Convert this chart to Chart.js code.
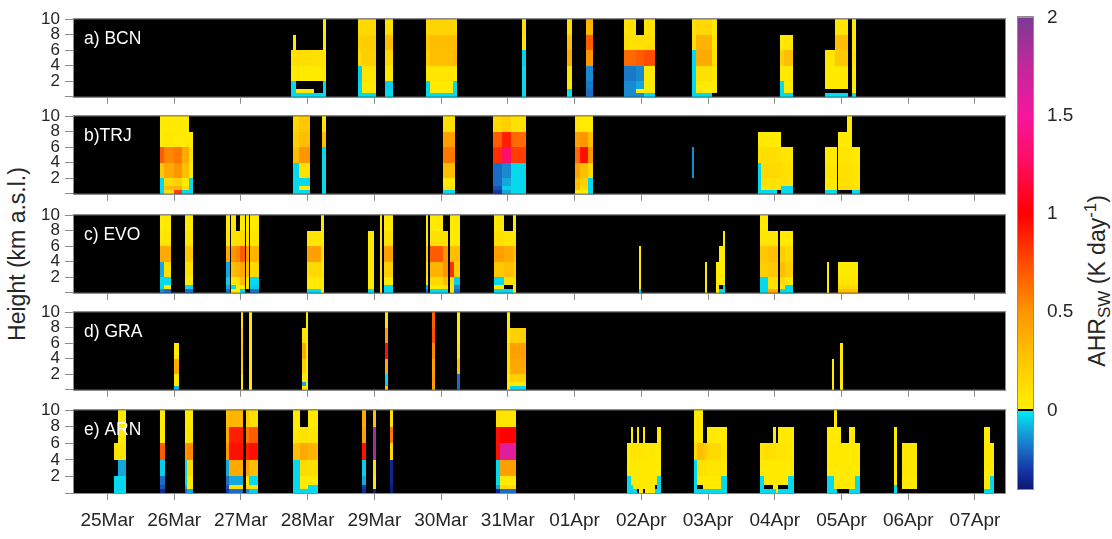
<!DOCTYPE html>
<html>
<head>
<meta charset="utf-8">
<script src="https://cdn.jsdelivr.net/npm/chart.js@4.4.1/dist/chart.umd.min.js"></script>
<style>
  html, body { margin: 0; padding: 0; background: #fff; }
  #wrap { position: relative; width: 1112px; height: 539px; overflow: hidden;
          font-family: 'Liberation Sans', Arial, sans-serif; color: #262626; }
  #wrap canvas { position: absolute; }
  .vlabel { position: absolute; width: 320px; height: 28px; line-height: 28px; font-size: 23px;
            white-space: nowrap; transform: rotate(-90deg); transform-origin: 0 0; }
  .vlabel sub, .vlabel sup { font-size: 17px; }
</style>
</head>
<body>
<div id="wrap">
  <div class="vlabel" style="left:3px; top:414px; text-align:center;">Height (km a.s.l.)</div>
  <div class="vlabel" style="left:1077px; top:515px; text-align:right;">AHR<sub>SW</sub> (K day<sup>-1</sup>)</div>
</div>
<script>
// time axis: days since 25 Mar 00:00
const dayLabels = ['25Mar', '26Mar', '27Mar', '28Mar', '29Mar', '30Mar', '31Mar',
                   '01Apr', '02Apr', '03Apr', '04Apr', '05Apr', '06Apr', '07Apr'];
const heightEdges = [0, 0.5, 1, 2, 4, 6, 8, 10];
const heightTicks = [0, 2, 4, 6, 8, 10];
const colorbarTicks = [0, 0.5, 1, 1.5, 2];
const stationNames = ['a) BCN', 'b)TRJ', 'c) EVO', 'd) GRA', 'e) ARN'];

// each row: [start, end, AHR in layers 0-0.5, 0.5-1, 1-2, 2-4, 4-6, 6-8, 8-10 km]; null = no data
const bcnProfiles = [
  [2.75, 2.78, -0.03, -0.03, -0.03, 0.05, 0.1, null, null],
  [2.78, 2.82, -0.03, -0.03, -0.03, 0.05, 0.1, 0.05, null],
  [2.82, 3.10, -0.03, 0.05, null, 0.05, 0.12, null, null],
  [3.10, 3.23, -0.03, null, null, 0.05, 0.1, null, null],
  [3.23, 3.28, -0.03, -0.03, -0.03, 0.05, 0.08, 0.05, 0.05],
  [3.75, 3.82, -0.03, -0.03, -0.03, -0.05, 0.15, 0.2, 0.15],
  [3.82, 4.03, -0.03, 0.05, 0.05, 0.08, 0.2, 0.22, 0.15],
  [4.16, 4.28, -0.03, -0.03, -0.05, 0.05, 0.15, 0.3, 0.1],
  [4.78, 4.83, -0.03, -0.03, -0.03, 0.05, 0.2, 0.25, 0.15],
  [4.83, 5.18, -0.03, 0.05, 0.05, 0.08, 0.3, 0.3, 0.18],
  [5.18, 5.24, -0.03, -0.03, -0.03, 0.05, 0.35, 0.3, 0.15],
  [6.21, 6.28, -0.03, -0.03, -0.03, -0.03, -0.04, 0.08, 0.1],
  [6.88, 6.96, -0.01, -0.03, 0.05, 0.08, 0.4, 0.3, 0.1],
  [7.17, 7.28, -0.2, -0.2, -0.18, -0.15, 0.5, 0.7, 0.35],
  [7.74, 7.92, -0.15, -0.15, -0.15, -0.18, 0.65, 0.1, 0.08],
  [7.92, 8.04, -0.15, 0.05, -0.1, -0.15, 0.7, 0.1, null],
  [8.04, 8.21, -0.03, 0.05, 0.05, 0.05, 0.75, 0.12, 0.08],
  [8.76, 8.82, -0.03, -0.03, -0.03, -0.03, -0.03, 0.1, 0.1],
  [8.82, 9.06, -0.03, 0.05, 0.05, 0.1, 0.4, 0.35, 0.15],
  [9.06, 9.13, null, 0.05, 0.05, 0.05, 0.1, 0.08, 0.05],
  [10.08, 10.14, -0.03, -0.03, -0.03, 0.05, 0.2, 0.05, null],
  [10.14, 10.28, -0.03, 0.05, 0.05, 0.05, 0.3, 0.08, null],
  [10.76, 10.91, -0.03, null, 0.05, 0.05, 0.08, null, null],
  [10.91, 11.10, -0.03, null, 0.05, 0.05, 0.25, 0.3, 0.08],
  [11.15, 11.21, -0.03, 0.05, 0.05, 0.05, 0.08, 0.05, 0.05]
];

const trjProfiles = [
  [0.79, 0.85, -0.03, -0.03, -0.03, 0.25, 0.7, 0.05, 0.05],
  [0.85, 1.00, 0.1, 0.3, 0.15, 0.4, 0.55, 0.06, 0.05],
  [1.00, 1.12, 0.8, 0.35, 0.2, 0.5, 0.6, 0.05, 0.05],
  [1.12, 1.23, -0.03, 0.1, 0.05, 0.3, 0.4, 0.05, 0.05],
  [1.23, 1.28, -0.03, -0.03, -0.03, 0.05, 0.08, 0.05, null],
  [2.78, 2.87, -0.03, -0.03, -0.03, -0.03, 0.3, 0.2, 0.15],
  [2.87, 3.03, -0.03, 0.05, -0.03, 0.1, 0.5, 0.3, 0.25],
  [3.21, 3.28, -0.03, -0.03, -0.03, -0.03, -0.03, 0.3, 0.08],
  [5.03, 5.21, -0.03, 0.1, 0.05, 0.3, 0.6, 0.45, 0.1],
  [5.78, 5.92, -0.3, -0.25, -0.2, -0.2, 0.85, 0.7, 0.15],
  [5.92, 6.05, -0.1, -0.05, -0.1, -0.15, 1.3, 0.9, 0.2],
  [6.05, 6.28, -0.03, -0.03, -0.03, -0.03, 0.8, 0.65, 0.1],
  [7.00, 7.08, 0.05, 0.3, 0.3, 0.45, 0.65, 0.45, 0.08],
  [7.08, 7.20, 0.05, 0.15, 0.2, 0.3, 0.95, 0.5, 0.05],
  [7.20, 7.28, -0.03, -0.03, -0.03, 0.15, 0.5, 0.3, 0.05],
  [8.76, 8.79, null, null, null, -0.15, -0.15, null, null],
  [9.75, 9.80, -0.03, -0.03, -0.03, -0.03, 0.1, 0.05, null],
  [9.80, 10.04, -0.03, 0.08, 0.1, 0.15, 0.12, 0.05, null],
  [10.04, 10.10, null, 0.1, 0.1, 0.15, 0.1, 0.05, null],
  [10.10, 10.28, -0.03, -0.03, 0.1, 0.1, 0.08, null, null],
  [10.76, 10.93, -0.03, 0.05, 0.05, 0.08, 0.05, null, null],
  [10.95, 11.08, null, 0.15, 0.1, 0.1, 0.08, 0.05, null],
  [11.08, 11.15, null, 0.15, 0.1, 0.1, 0.08, 0.05, 0.05],
  [11.15, 11.28, -0.03, 0.1, 0.08, 0.08, 0.05, null, null]
];

const evoProfiles = [
  [0.79, 0.85, -0.15, -0.03, -0.03, -0.1, 0.4, 0.08, 0.05],
  [0.85, 0.95, -0.2, 0.05, -0.03, 0.1, 0.4, 0.08, 0.05],
  [1.16, 1.28, -0.2, -0.03, 0.05, 0.1, 0.25, 0.08, 0.05],
  [1.78, 1.83, -0.2, -0.1, -0.05, -0.1, 0.4, 0.08, 0.05],
  [1.85, 1.93, 0.05, -0.03, 0.05, 0.3, 0.5, 0.1, 0.08],
  [1.93, 1.98, 0.05, 0.05, 0.1, 0.35, 0.55, 0.1, null],
  [1.98, 2.06, -0.03, 0.05, 0.3, 0.4, 0.7, 0.15, 0.05],
  [2.08, 2.12, null, 0.05, 0.1, 0.3, 0.45, 0.1, 0.05],
  [2.14, 2.27, -0.2, -0.05, -0.03, 0.15, 0.35, 0.08, 0.05],
  [2.99, 3.20, -0.03, 0.05, 0.05, 0.15, 0.45, 0.08, null],
  [3.20, 3.24, 0.05, 0.05, 0.05, 0.08, 0.1, 0.05, 0.05],
  [3.91, 3.99, -0.03, 0.05, 0.05, 0.05, 0.05, 0.05, null],
  [4.08, 4.12, 0.05, 0.05, 0.05, 0.05, 0.08, 0.05, 0.05],
  [4.14, 4.28, -0.03, -0.03, 0.05, 0.2, 0.45, 0.1, 0.05],
  [4.78, 4.81, -0.2, -0.1, 0.05, 0.1, 0.2, 0.05, 0.05],
  [4.84, 5.03, -0.03, 0.05, 0.15, 0.35, 0.7, 0.1, 0.05],
  [5.03, 5.11, -0.03, 0.1, 0.3, 0.5, 0.5, 0.1, null],
  [5.14, 5.19, 0.05, 0.05, 0.1, 0.85, 0.3, 0.05, 0.05],
  [5.20, 5.28, -0.2, -0.15, -0.05, 0.2, 0.3, 0.05, 0.05],
  [5.79, 5.95, -0.03, 0.05, -0.03, 0.25, 0.45, 0.1, 0.05],
  [5.95, 6.08, -0.03, null, 0.1, 0.3, 0.4, 0.08, null],
  [6.08, 6.12, 0.05, 0.05, 0.1, 0.2, 0.3, 0.05, 0.05],
  [7.96, 7.99, -0.03, 0.05, 0.05, 0.05, 0.05, null, null],
  [8.95, 8.99, 0.05, 0.05, 0.05, 0.05, null, null, null],
  [9.12, 9.16, 0.05, 0.05, 0.05, 0.05, null, null, null],
  [9.16, 9.22, -0.03, null, 0.05, 0.05, 0.05, null, null],
  [9.22, 9.26, -0.03, -0.03, 0.05, 0.05, 0.05, 0.05, null],
  [9.78, 9.90, -0.03, -0.03, -0.03, 0.2, 0.25, 0.08, 0.05],
  [9.90, 10.05, 0.4, 0.1, 0.1, 0.25, 0.3, 0.08, null],
  [10.08, 10.15, -0.03, 0.05, 0.15, 0.3, 0.2, 0.05, null],
  [10.15, 10.28, -0.03, -0.03, 0.05, 0.2, 0.15, 0.05, null],
  [10.78, 10.82, 0.05, 0.05, 0.05, 0.05, null, null, null],
  [10.95, 11.25, 0.3, 0.15, 0.08, 0.05, null, null, null]
];

const graProfiles = [
  [1.00, 1.07, -0.08, 0.05, 0.05, 0.4, 0.05, null, null],
  [2.00, 2.03, 0.05, 0.05, 0.05, 0.2, 0.3, 0.25, 0.1],
  [2.12, 2.16, 0.05, 0.05, 0.05, 0.05, 0.05, 0.05, 0.05],
  [2.91, 2.98, 0.05, -0.1, 0.05, 0.2, 0.4, 0.08, null],
  [2.98, 3.00, 0.05, 0.05, 0.05, 0.05, 0.05, 0.05, 0.05],
  [4.16, 4.21, 0.3, -0.05, -0.03, 0.4, 0.95, 0.45, 0.1],
  [4.87, 4.91, 0.45, 0.45, 0.5, 0.45, 0.55, 0.75, 0.7],
  [5.24, 5.28, -0.2, -0.2, -0.2, 0.3, 0.1, 0.05, 0.05],
  [5.99, 6.04, 0.05, 0.05, 0.05, 0.1, 0.1, 0.05, 0.05],
  [6.04, 6.27, -0.03, 0.05, 0.2, 0.4, 0.45, 0.2, null],
  [10.86, 10.89, 0.05, 0.05, 0.05, 0.05, null, null, null],
  [10.98, 11.02, 0.05, 0.05, 0.05, 0.05, 0.05, null, null]
];

const arnProfiles = [
  [0.10, 0.16, -0.03, -0.03, -0.03, null, 0.1, null, null],
  [0.16, 0.28, -0.03, -0.03, -0.03, -0.1, 0.08, 0.05, 0.05],
  [0.79, 0.87, -0.35, -0.25, -0.2, -0.05, 0.7, 0.05, 0.05],
  [1.16, 1.20, -0.2, -0.1, -0.03, -0.03, 0.5, 0.05, 0.05],
  [1.20, 1.28, -0.1, 0.05, 0.05, 0.15, 0.55, 0.08, 0.05],
  [1.78, 1.82, -0.3, -0.25, -0.2, -0.1, 0.5, 0.4, 0.3],
  [1.82, 2.03, -0.2, 0.1, -0.1, 0.4, 0.95, 0.9, 0.35],
  [2.07, 2.12, -0.15, 0.15, 0.05, 0.45, 0.9, 0.6, 0.2],
  [2.12, 2.25, -0.05, 0.1, -0.03, 0.3, 0.95, 0.7, 0.1],
  [2.78, 2.88, -0.03, -0.03, -0.03, -0.03, 0.3, 0.05, 0.05],
  [2.88, 3.01, -0.03, 0.05, 0.05, 0.15, 0.4, 0.1, null],
  [3.01, 3.16, -0.03, -0.03, 0.05, 0.12, 0.35, 0.08, 0.05],
  [3.82, 3.87, -0.35, -0.3, -0.1, -0.05, 0.95, 0.45, 0.4],
  [3.98, 4.03, -0.38, 0.05, 0.05, 0.1, 1.85, 1.9, 0.3],
  [4.23, 4.28, -0.38, -0.38, -0.35, -0.35, 0.15, 0.6, 0.1],
  [5.83, 5.88, -0.35, -0.1, -0.03, -0.03, 0.95, 0.95, 0.1],
  [5.88, 6.12, -0.2, 0.15, 0.05, 0.45, 1.6, 1.0, 0.08],
  [7.79, 7.84, -0.03, -0.03, -0.03, 0.05, 0.05, null, null],
  [7.84, 7.88, -0.03, -0.03, 0.05, 0.05, 0.08, 0.05, null],
  [7.88, 7.93, -0.03, 0.05, 0.05, 0.05, 0.08, null, null],
  [7.93, 7.96, null, 0.05, 0.05, 0.05, 0.08, 0.05, null],
  [7.96, 8.02, 0.05, 0.05, 0.05, 0.05, 0.08, null, null],
  [8.02, 8.06, null, 0.05, 0.05, 0.05, 0.08, 0.05, null],
  [8.06, 8.20, 0.05, 0.05, 0.05, 0.05, 0.06, null, null],
  [8.20, 8.24, -0.03, null, 0.05, 0.05, 0.05, null, null],
  [8.24, 8.29, -0.03, -0.03, -0.03, 0.05, 0.05, 0.05, null],
  [8.79, 8.84, -0.03, -0.03, -0.03, -0.03, 0.15, 0.05, 0.05],
  [8.84, 8.92, -0.03, null, 0.05, 0.1, 0.3, 0.05, 0.05],
  [8.92, 8.99, -0.03, 0.05, 0.05, 0.1, 0.25, null, null],
  [8.99, 9.20, -0.03, 0.05, 0.05, 0.08, 0.15, 0.05, null],
  [9.20, 9.29, -0.03, -0.03, -0.03, 0.05, 0.08, 0.05, null],
  [9.78, 9.84, -0.03, -0.03, -0.03, 0.05, 0.08, null, null],
  [9.84, 9.97, -0.03, null, 0.05, 0.05, 0.12, null, null],
  [9.97, 10.02, -0.03, 0.05, 0.05, 0.05, 0.1, 0.05, null],
  [10.02, 10.05, 0.05, 0.05, 0.05, 0.05, 0.08, null, null],
  [10.05, 10.20, -0.03, null, 0.05, 0.05, 0.08, 0.05, null],
  [10.20, 10.29, -0.03, -0.03, -0.03, 0.05, 0.05, 0.05, null],
  [10.79, 10.89, -0.03, -0.03, -0.03, 0.05, 0.05, 0.05, null],
  [10.89, 10.93, -0.03, 0.05, 0.05, 0.05, 0.05, 0.05, 0.05],
  [10.93, 11.00, null, 0.05, 0.05, 0.05, 0.05, 0.05, null],
  [11.00, 11.12, null, 0.05, 0.05, 0.05, 0.05, null, null],
  [11.12, 11.20, -0.03, 0.05, 0.05, 0.05, 0.05, 0.05, null],
  [11.20, 11.28, -0.03, -0.03, -0.03, 0.05, 0.05, null, null],
  [11.79, 11.83, -0.03, -0.03, 0.05, 0.05, 0.05, 0.05, null],
  [11.91, 12.13, null, 0.05, 0.05, 0.08, 0.08, null, null],
  [13.13, 13.23, -0.03, 0.05, 0.05, 0.05, 0.05, 0.05, null],
  [13.23, 13.29, -0.03, -0.03, -0.03, 0.05, 0.05, null, null]
];

const stationProfiles = [bcnProfiles, trjProfiles, evoProfiles, graProfiles, arnProfiles];

// colour map: cyan-blue below zero, yellow-orange-red-pink-purple above
const negStops = [[-0.4, '#0c1672'], [-0.3, '#1438a8'], [-0.2, '#1a6cc4'], [-0.1, '#13a8dc'], [0, '#00eef4']];
const posStops = [[0, '#fff200'], [0.25, '#ffc800'], [0.5, '#ff9600'], [0.75, '#ff4c00'],
                  [1, '#ff0000'], [1.25, '#ff0c5c'], [1.5, '#f6169e'], [1.75, '#c0289a'], [2, '#7d3a96']];

function hexRgb(h) {
  return [parseInt(h.slice(1, 3), 16), parseInt(h.slice(3, 5), 16), parseInt(h.slice(5, 7), 16)];
}

function colorFor(v) {
  const stops = v < 0 ? negStops : posStops;
  if (v <= stops[0][0]) return stops[0][1];
  if (v >= stops[stops.length - 1][0]) return stops[stops.length - 1][1];
  for (let i = 0; i < stops.length - 1; i++) {
    const [v0, c0] = stops[i];
    const [v1, c1] = stops[i + 1];
    if (v >= v0 && v <= v1) {
      const f = (v - v0) / (v1 - v0);
      const a = hexRgb(c0), b = hexRgb(c1);
      const rgb = a.map((x, k) => Math.round(x + (b[k] - x) * f));
      return `rgb(${rgb[0]},${rgb[1]},${rgb[2]})`;
    }
  }
  return '#000';
}

const AXIS_GREY = '#8c8c8c';
const TEXT = '#262626';
const FONT = "'Liberation Sans', Arial, sans-serif";

const heatmapPlugin = {
  id: 'heatmap',
  beforeDatasetsDraw(chart, args, opts) {
    const { ctx, chartArea: a, scales: { x, y } } = chart;
    ctx.save();
    ctx.fillStyle = '#000';
    ctx.fillRect(a.left, a.top, a.width, a.height);
    ctx.beginPath();
    ctx.rect(a.left, a.top, a.width, a.height);
    ctx.clip();
    opts.profiles.forEach(row => {
      const x0 = Math.round(x.getPixelForValue(row[0]));
      const x1 = Math.round(x.getPixelForValue(row[1]));
      for (let k = 0; k < heightEdges.length - 1; k++) {
        const v = row[k + 2];
        if (v === null) continue;
        const yTop = Math.round(y.getPixelForValue(heightEdges[k + 1]));
        const yBot = Math.round(y.getPixelForValue(heightEdges[k]));
        ctx.fillStyle = colorFor(v);
        ctx.fillRect(x0, yTop, Math.max(1, x1 - x0), yBot - yTop);
      }
    });
    ctx.restore();
  },
  afterDraw(chart, args, opts) {
    const { ctx, chartArea: a } = chart;
    ctx.save();
    ctx.strokeStyle = AXIS_GREY;
    ctx.lineWidth = 1;
    ctx.strokeRect(Math.round(a.left) - 0.5, Math.round(a.top) - 0.5, Math.round(a.width) + 1, Math.round(a.height) + 1);
    ctx.fillStyle = '#fff';
    ctx.font = `17.5px ${FONT}`;
    ctx.textBaseline = 'middle';
    ctx.fillText(opts.label, a.left + 10, a.top + 20);
    ctx.restore();
  }
};

const panelTops = [16, 113, 212, 309, 407];
const PANEL_H = 86;
const PAD_TOP = 12;
const wrap = document.getElementById('wrap');

panelTops.forEach((top, i) => {
  const last = i === panelTops.length - 1;
  const xH = last ? 46 : 10;
  const cv = document.createElement('canvas');
  cv.width = 1012;
  cv.height = PAD_TOP + PANEL_H + xH;
  cv.style.left = '0px';
  cv.style.top = (top - PAD_TOP) + 'px';
  cv.style.width = cv.width + 'px';
  cv.style.height = cv.height + 'px';
  wrap.appendChild(cv);

  new Chart(cv, {
    type: 'scatter',
    data: { datasets: [] },
    plugins: [heatmapPlugin],
    options: {
      responsive: false,
      animation: false,
      events: [],
      layout: { padding: { top: PAD_TOP, left: 0, right: 7, bottom: 0 } },
      plugins: {
        legend: { display: false },
        tooltip: { enabled: false },
        heatmap: { profiles: stationProfiles[i], label: stationNames[i] }
      },
      scales: {
        x: {
          type: 'linear',
          min: -0.5,
          max: 13.45,
          afterBuildTicks: s => { s.ticks = dayLabels.map((_, k) => ({ value: k })); },
          afterFit: s => { s.height = xH; },
          border: { display: false },
          grid: { display: true, drawOnChartArea: false, drawTicks: true, tickLength: 7, color: AXIS_GREY },
          ticks: {
            display: last,
            autoSkip: false,
            maxRotation: 0,
            padding: 9,
            color: TEXT,
            font: { family: FONT, size: 19 },
            callback: v => dayLabels[v]
          }
        },
        y: {
          type: 'linear',
          min: 0,
          max: 10,
          afterBuildTicks: s => { s.ticks = heightTicks.map(v => ({ value: v })); },
          afterFit: s => { s.width = 74; },
          border: { display: false },
          grid: { display: true, drawOnChartArea: false, drawTicks: true, tickLength: 9, color: AXIS_GREY },
          ticks: {
            autoSkip: false,
            padding: 5,
            color: TEXT,
            font: { family: FONT, size: 17 },
            callback: v => (v === 0 ? '' : String(v))
          }
        }
      }
    }
  });
});

// colour bar
const colorbarPlugin = {
  id: 'colorbar',
  beforeDatasetsDraw(chart) {
    const { ctx, chartArea: a, scales: { y } } = chart;
    const g = ctx.createLinearGradient(0, a.top, 0, a.bottom);
    const off = v => Math.min(1, Math.max(0, (y.getPixelForValue(v) - a.top) / (a.bottom - a.top)));
    posStops.slice().reverse().forEach(([v, c]) => g.addColorStop(off(v), c));
    negStops.slice().reverse().forEach(([v, c]) => g.addColorStop(off(v), c));
    ctx.save();
    ctx.fillStyle = g;
    ctx.fillRect(a.left, a.top, a.width, a.height);
    const y0 = Math.round(y.getPixelForValue(0));
    ctx.fillStyle = '#000';
    ctx.fillRect(a.left, y0 - 1, a.width, 2);
    ctx.strokeStyle = AXIS_GREY;
    ctx.lineWidth = 1;
    ctx.strokeRect(Math.round(a.left) - 0.5, Math.round(a.top) - 0.5, Math.round(a.width) + 1, Math.round(a.height) + 1);
    ctx.restore();
  }
};

const cb = document.createElement('canvas');
cb.width = 102;
cb.height = 539;
cb.style.left = '1010px';
cb.style.top = '0px';
cb.style.width = '102px';
cb.style.height = '539px';
wrap.appendChild(cb);

new Chart(cb, {
  type: 'scatter',
  data: { datasets: [] },
  plugins: [colorbarPlugin],
  options: {
    responsive: false,
    animation: false,
    events: [],
    layout: { padding: { top: 17, left: 8, right: 0, bottom: 50 } },
    plugins: { legend: { display: false }, tooltip: { enabled: false } },
    scales: {
      x: { type: 'linear', min: 0, max: 1, display: false },
      y: {
        type: 'linear',
        position: 'right',
        min: -0.4,
        max: 2,
        afterBuildTicks: s => { s.ticks = colorbarTicks.map(v => ({ value: v })); },
        afterFit: s => { s.width = 79; },
        border: { display: false },
        grid: { display: false },
        ticks: {
          autoSkip: false,
          padding: 6,
          color: TEXT,
          font: { family: FONT, size: 19 },
          callback: v => String(v)
        }
      }
    }
  }
});
</script>
</body>
</html>
